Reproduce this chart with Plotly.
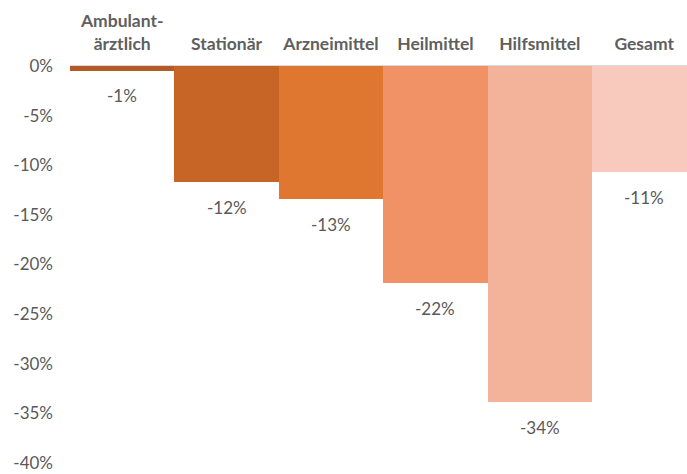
import math
import plotly.graph_objects as go

# Change in expenditure by sector (percent)
categories = ["Ambulant-<br>ärztlich", "Stationär", "Arzneimittel", "Heilmittel", "Hilfsmittel", "Gesamt"]
values = [-0.5, -11.7, -13.4, -21.9, -33.9, -10.7]
colors = ["#b35a26", "#c66526", "#e07730", "#f09265", "#f3b29a", "#f7cabd"]
tick_vals = [0, -5, -10, -15, -20, -25, -30, -35, -40]
tick_text = ["0%", "-5%", "-10%", "-15%", "-20%", "-25%", "-30%", "-35%", "-40%"]


def pct_label(v):
    # round half away from zero, as spreadsheet labels do
    r = int(math.copysign(math.floor(abs(v) + 0.5), v))
    return f"{r}%"


x_idx = list(range(len(categories)))

fig = go.Figure(
    go.Bar(
        x=x_idx,
        y=values,
        marker=dict(color=colors, line=dict(width=0)),
        width=1.0,
        hoverinfo="skip",
    )
)

for i, v in zip(x_idx, values):
    fig.add_annotation(
        x=i, y=v, text=pct_label(v), showarrow=False,
        yanchor="middle", yshift=-25,
        font=dict(family="Lato", size=17, color="#595959"),
    )

fig.update_layout(
    width=687, height=474,
    margin=dict(l=70, r=0, t=66, b=11),
    paper_bgcolor="white", plot_bgcolor="white",
    showlegend=False,
    bargap=0,
)
fig.update_xaxes(
    side="top",
    tickmode="array", tickvals=x_idx, ticktext=categories,
    range=[-0.5, 5.41],
    showgrid=False, zeroline=False, showline=False,
    ticks="", ticklabelstandoff=12,
    tickfont=dict(family="Lato", size=17.5, color="#5f5f5f", weight="bold"),
)
fig.update_yaxes(
    range=[-40, 0],
    tickmode="array", tickvals=tick_vals, ticktext=tick_text,
    showgrid=False, zeroline=True, zerolinecolor="#d9d9d9", zerolinewidth=1.5,
    showline=False, ticks="", ticklabelstandoff=16,
    tickfont=dict(family="Lato", size=17, color="#595959"),
)

fig.write_html("out.html")
